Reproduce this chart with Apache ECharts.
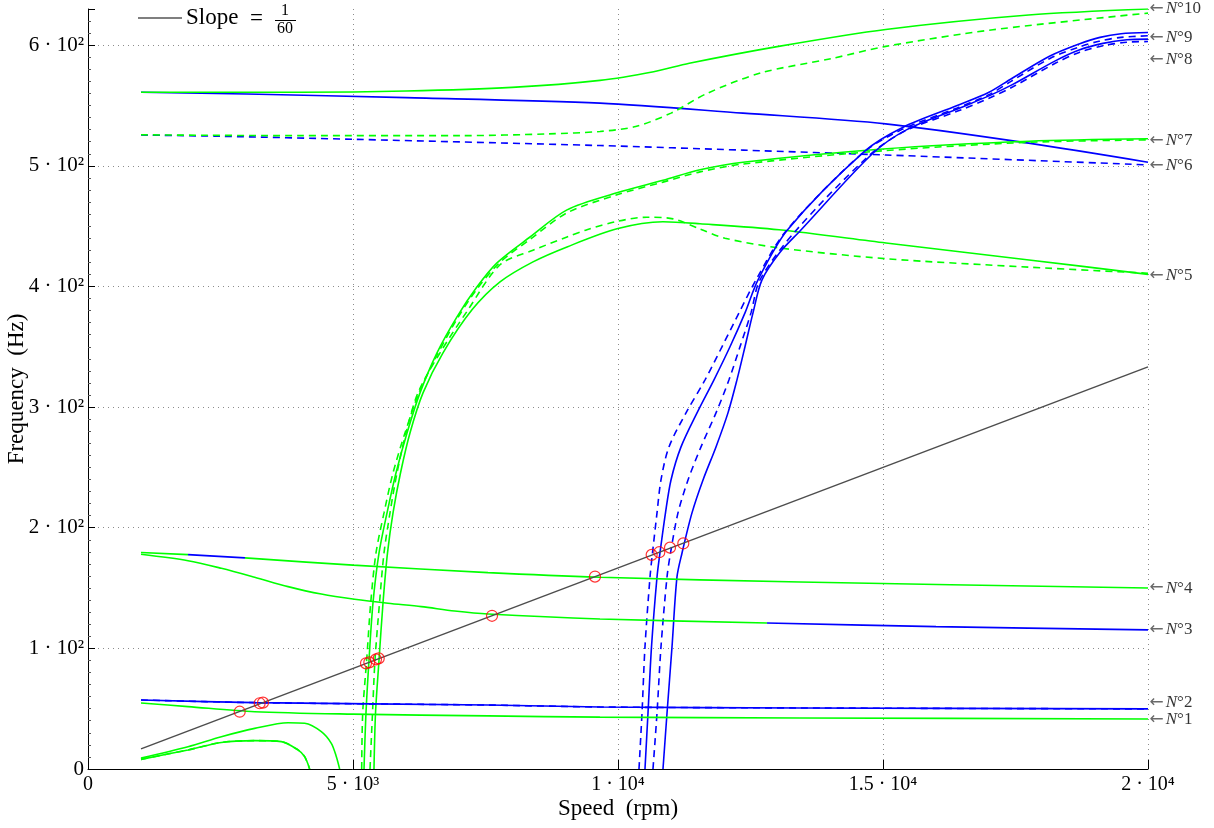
<!DOCTYPE html>
<html>
<head>
<meta charset="utf-8">
<script src="https://cdn.jsdelivr.net/npm/echarts@6.0.0/dist/echarts.min.js"></script>
<style>
html,body{margin:0;padding:0;background:#fff;}
#chart{width:1214px;height:828px;}
</style>
</head>
<body>
<div id="chart"></div>
<script>
// ---------- Tick labels ----------
const speedTickValues = [0, 5000, 10000, 15000, 20000];
const speedTickLabels = ['0', '5 · 10³', '1 · 10⁴', '1.5 · 10⁴', '2 · 10⁴'];
const freqTickValues = [0, 100, 200, 300, 400, 500, 600];
const freqTickLabels = ['0', '1 · 10²', '2 · 10²', '3 · 10²', '4 · 10²', '5 · 10²', '6 · 10²'];

// ---------- Excitation line (slope 1/60) ----------
const slopeLine = [[1000, 16.67], [20000, 333.33]];

// ---------- Modes (Speed rpm, Frequency Hz) ----------
const mode1 = [[1000,54.7],[1887,51.7],[3145,47.5],[5000,45.5],[7547,44],[9660,43],[13434,42.3],[20000,41.5]];
const mode2 = [[1000,57.2],[3145,55],[7547,53],[9660,51.4],[13434,50.6],[20000,49.8]];
const mode3 = [[1000,178],[1887,172.7],[2516,166.4],[3145,159],[3774,151.2],[4402,145],[5031,140.7],[5660,137.4],[6289,134.6],[6918,131],[7547,128.5],[9660,124.4],[12811,121],[16000,118],[20000,115.3]];
const mode3BlueFrom = 12811;
const mode4 = [[1000,179.5],[1887,177.7],[2962,175],[5000,169],[7547,162.8],[9660,159],[13434,155],[20000,150]];
const mode4BlueRange = [1887, 2962];

const lowCurveA = [[1000,9],[1887,18.5],[2516,26.8],[3145,33.7],[3774,38.4],[4088,37.9],[4402,31],[4591,21.3],[4686,10.2],[4748,0]];
const lowCurveB = [[1000,8],[1887,15.8],[2516,22],[3145,23.5],[3648,22.7],[3962,15.8],[4088,10.2],[4182,0]];

const mode7Solid = [[5208,0],[5245,46.4],[5302,90.4],[5377,137.6],[5491,179.1],[5642,212.3],[5811,245.4],[6019,278.6],[6264,311.8],[6585,345],[6962,374.8],[7340,399.7],[7717,419.6],[8340,441],[9038,463.5],[9981,477.6],[10849,488],[11547,496.7],[12358,503],[15000,514],[17755,520.4],[20000,522.4]];
const mode7Dashed = [[5164,0],[5183,46.4],[5258,90.4],[5334,137.6],[5434,179.1],[5585,212.3],[5755,245.4],[5981,278.6],[6245,311.8],[6585,343],[6962,373],[7340,398],[7774,420],[8340,439],[9038,461],[9981,476],[10849,486.5],[11547,495],[12358,501.5],[15000,512.5],[17755,519.5],[20000,521.5]];
const mode5Solid = [[5396,0],[5425,46.4],[5491,90.4],[5566,137.6],[5651,179.1],[5755,212.3],[5896,245.4],[6075,278.6],[6321,311.8],[6698,345],[7245,380.6],[7774,403.8],[8396,420.4],[9038,432.8],[9981,447.8],[10849,453.6],[11547,452],[13038,447],[15057,436],[17755,422],[20000,410]];
const mode5Dashed = [[5321,0],[5368,46.4],[5415,90.4],[5500,137.6],[5585,179.1],[5698,212.3],[5830,245.4],[6000,278.6],[6226,311.8],[6642,345],[7170,380.6],[7774,418],[8396,430],[9038,441],[9415,447],[9981,454],[10547,457.4],[11038,456],[11547,447.7],[12019,440],[13038,432],[15057,423],[17755,416],[20000,411]];

const mode6Solid = [[1000,561],[3000,559.5],[6000,556.5],[9660,552],[12358,543.7],[15051,534.8],[17747,518.8],[20000,503]];
const mode6Dashed = [[1000,525.5],[2490,524.5],[5000,522],[9660,516.8],[12358,513],[15051,509],[20000,500.8]];
const mode8Dashed = [[1000,525.7],[4000,525],[7000,525],[8700,526.5],[9660,528.5],[10334,532.6],[11000,543.7],[11679,560],[12692,577],[14038,589],[15051,599],[17074,612.8],[20000,626.6]];
const mode10Solid = [[1000,561],[4000,561],[6000,562],[8000,565],[9660,570.8],[10672,578],[11345,585],[13030,599],[15051,613],[17747,625],[20000,630]];

const blueLeftDashed = [[10396,0],[10453,46.4],[10509,101.2],[10604,159.2],[10651,179.1],[10736,212.3],[10811,239.6],[10962,267],[11283,295.2],[11642,322.6],[11962,350],[12283,378.1],[12604,405.5],[13170,446],[14600,510],[15350,530],[16400,548],[17000,559],[17415,570],[18150,589],[18700,598.5],[19094,603.5],[19491,606.5],[20000,607.8]];
const blueLeftSolid = [[10509,0],[10566,46.4],[10632,101.2],[10736,159.2],[10792,179.1],[10896,212.3],[11000,239.6],[11189,267],[11491,295.2],[11811,322.6],[12113,350],[12396,378.1],[12642,405.5],[13200,447],[14650,512],[15380,532],[16400,550],[17000,561],[17415,572],[18150,591],[18700,601],[19094,606.5],[19491,609.5],[20000,610.5]];
const blueRightDashed = [[10660,0],[10736,46.4],[10811,101.2],[10925,159.2],[10991,179.1],[11132,212.3],[11321,239.6],[11566,267],[11849,295.2],[12094,322.6],[12302,350],[12509,378.1],[12679,405.5],[13350,446],[14750,509],[15420,529],[16450,546],[17000,556],[17450,565.5],[18250,585],[18700,594],[19150,599.5],[19600,602.5],[20000,603]];
const blueRightSolid = [[10849,0],[10925,46.4],[11019,101.2],[11113,159.2],[11208,179.1],[11396,212.3],[11604,239.6],[11849,267],[12075,295.2],[12245,322.6],[12396,350],[12547,378.1],[12717,405.5],[13050,428],[13434,446],[14800,510],[15450,530],[16450,548],[17000,558],[17450,567.5],[18250,587],[18700,596],[19150,601.5],[19600,604.5],[20000,605]];

const crossings = [[2862,47.5],[3239,54.5],[3302,55],[5245,87.6],[5308,88.4],[5434,90.9],[5485,91.7],[7623,127],[9566,159.5],[10635,177.5],[10779,179.7],[10981,183.5],[11232,187]];

const modeLabelValues = [630, 606, 588, 520.7, 500.5, 409, 150, 115.5, 54.7, 40.6];
const modeLabelNames = ['10', '9', '8', '7', '6', '5', '4', '3', '2', '1'];

// ---------- Styling ----------
const GREEN = '#00ff00';
const BLUE = '#0000ff';
const FONT = '"Liberation Serif", "DejaVu Serif", serif';

function curve(data, color, dashed, smooth) {
  return {
    type: 'line', data: data, symbol: 'none', smooth: smooth === undefined ? 0.3 : smooth, silent: true,
    lineStyle: { width: 1.6, color: color, type: dashed ? [7, 5] : 'solid' },
    z: 2
  };
}

// split modes 3 and 4 where their colour changes
const mode3Green = mode3.filter(p => p[0] <= mode3BlueFrom);
const mode3Blue = mode3.filter(p => p[0] >= mode3BlueFrom);
const mode4GreenA = mode4.filter(p => p[0] <= mode4BlueRange[0]);
const mode4Blue = mode4.filter(p => p[0] >= mode4BlueRange[0] && p[0] <= mode4BlueRange[1]);
const mode4GreenB = mode4.filter(p => p[0] >= mode4BlueRange[1]);

const series = [];
series.push(curve(mode6Solid, BLUE, false));
series.push(curve(mode6Dashed, BLUE, true));
series.push(curve(mode10Solid, GREEN, false));
series.push(curve(mode8Dashed, GREEN, true));
series.push(curve(mode7Solid, GREEN, false));
series.push(curve(mode7Dashed, GREEN, true));
series.push(curve(mode5Solid, GREEN, false));
series.push(curve(mode5Dashed, GREEN, true));
series.push(curve(blueLeftDashed, BLUE, true));
series.push(curve(blueLeftSolid, BLUE, false));
series.push(curve(blueRightDashed, BLUE, true));
series.push(curve(blueRightSolid, BLUE, false));
series.push(curve(lowCurveA, GREEN, false));
series.push(curve(lowCurveB, GREEN, false));
series.push(curve(lowCurveB, GREEN, true));
series.push(curve(mode2, BLUE, false));
series.push(curve(mode2, BLUE, true));
series.push(curve(mode1, GREEN, false));
series.push(curve(mode3Green, GREEN, false));
series.push(curve(mode3Blue, BLUE, false));
series.push(curve(mode4GreenA, GREEN, false));
series.push(curve(mode4Blue, BLUE, false));
series.push(curve(mode4GreenB, GREEN, false));
series.push({
  type: 'line', data: slopeLine, symbol: 'none', silent: true, z: 3,
  lineStyle: { color: '#4d4d4d', width: 1.5 }
});
series.push({
  type: 'scatter', data: crossings, symbol: 'circle', symbolSize: 11, silent: true, z: 5,
  itemStyle: { color: 'rgba(255,255,255,0)', borderColor: '#ff0000', borderWidth: 1.2 }
});
series.push({
  type: 'scatter', symbol: 'circle', symbolSize: 1, silent: true, z: 6, clip: false,
  itemStyle: { color: 'rgba(0,0,0,0)' },
  data: modeLabelValues.map((v, i) => ({ value: [20000, v], name: modeLabelNames[i] })),
  label: {
    show: true, position: 'right', distance: 1,
    formatter: p => '{a|←}{n|N}{d|°' + p.name + '}',
    rich: {
      a: { fontSize: 17, color: '#444', fontFamily: '"DejaVu Sans", sans-serif', padding: [0, 2, 0, 0] },
      n: { fontSize: 17, color: '#000', fontFamily: FONT, fontStyle: 'italic' },
      d: { fontSize: 17, color: '#000', fontFamily: FONT }
    }
  }
});

const option = {
  animation: false,
  backgroundColor: '#ffffff',
  grid: { left: 88, right: 66, top: 9, bottom: 59, containLabel: false, outerBoundsMode: 'none' },
  xAxis: {
    type: 'value', min: 0, max: 20000, interval: 5000,
    name: 'Speed  (rpm)', nameLocation: 'middle', nameGap: 28, nameMoveOverlap: false,
    nameTextStyle: { fontFamily: FONT, fontSize: 23, color: '#000' },
    axisLine: { show: true, onZero: false, lineStyle: { color: '#000', width: 1 } },
    axisTick: { show: true, inside: true, length: 9, lineStyle: { color: '#000' } },
    axisLabel: {
      fontFamily: FONT, fontSize: 20, color: '#000', margin: 6,
      formatter: v => { const i = speedTickValues.indexOf(v); return i >= 0 ? speedTickLabels[i] : ''; }
    },
    splitLine: { show: true, showMinLine: false, lineStyle: { color: '#8c8c8c', type: [1, 4], width: 1 } }
  },
  yAxis: {
    type: 'value', min: 0, max: 630, interval: 100,
    name: 'Frequency  (Hz)', nameLocation: 'middle', nameGap: 60, nameMoveOverlap: false,
    nameTextStyle: { fontFamily: FONT, fontSize: 23, color: '#000' },
    axisLine: { show: true, onZero: false, lineStyle: { color: '#000', width: 1 } },
    axisTick: { show: true, inside: true, length: 7, lineStyle: { color: '#000' } },
    minorTick: { show: true, splitNumber: 10, length: 3, lineStyle: { color: '#555' } },
    axisLabel: {
      fontFamily: FONT, fontSize: 21, color: '#000', margin: 4, showMaxLabel: false,
      formatter: v => { const i = freqTickValues.indexOf(v); return i >= 0 ? freqTickLabels[i] : ''; }
    },
    splitLine: { show: true, showMinLine: false, showMaxLine: false, lineStyle: { color: '#8c8c8c', type: [1, 4], width: 1 } }
  },
  graphic: [
    { type: 'line', shape: { x1: 138, y1: 18, x2: 182, y2: 18 }, style: { stroke: '#555', lineWidth: 1.5 } },
    { type: 'text', x: 186, y: 18, style: { text: 'Slope', font: '23px ' + FONT, fill: '#000', verticalAlign: 'middle' } },
    { type: 'text', x: 250, y: 19, style: { text: '=', font: '23px ' + FONT, fill: '#000', verticalAlign: 'middle' } },
    { type: 'text', x: 285, y: 11, style: { text: '1', font: '16px ' + FONT, fill: '#000', align: 'center', verticalAlign: 'middle' } },
    { type: 'line', shape: { x1: 275, y1: 20.5, x2: 296, y2: 20.5 }, style: { stroke: '#000', lineWidth: 1 } },
    { type: 'text', x: 285, y: 29, style: { text: '60', font: '16px ' + FONT, fill: '#000', align: 'center', verticalAlign: 'middle' } }
  ],
  series: series
};

const chart = echarts.init(document.getElementById('chart'), null, { renderer: 'canvas' });
chart.setOption(option);
</script>
</body>
</html>
